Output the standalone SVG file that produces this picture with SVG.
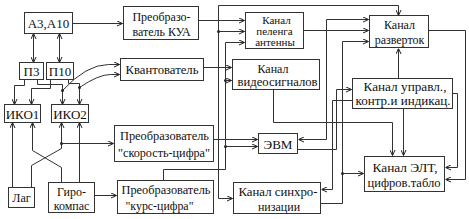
<svg xmlns="http://www.w3.org/2000/svg" width="469" height="219" viewBox="0 0 469 219">
<style>
.b{fill:#fff;stroke:#333;stroke-width:1}
.c{fill:none;stroke:#333;stroke-width:1}
.ar{marker-end:url(#a)}
.ab{marker-start:url(#a);marker-end:url(#a)}
text{font-family:"Liberation Serif","DejaVu Serif",serif;font-size:12px;fill:#111;text-anchor:middle}
.s{font-size:11px}
.d{fill:#222}
</style>
<defs>
<marker id="a" viewBox="0 0 6 6" refX="6" refY="3" markerWidth="6" markerHeight="6" markerUnits="userSpaceOnUse" orient="auto-start-reverse">
<path d="M0.5,0.5 L6,3 L0.5,5.5" fill="none" stroke="#222" stroke-width="1"/>
</marker>
</defs>
<rect width="469" height="219" fill="#fff"/>
<g transform="translate(0.5,0.5)">
<g id="connectors">
<path class="c ar" d="M72,23 H122"/>
<path class="c ab" d="M33,33 V62"/>
<path class="c ab" d="M59,33 V62"/>
<path class="c ar" d="M24,79 V85 H14 V104"/>
<path class="c ar" d="M37,79 V84 H62 V104"/>
<path class="c ar" d="M50,79 V88 H31 V104"/>
<path class="c ar" d="M68,79 V83 H79 V104"/>
<path class="c ar" d="M62,90 Q86,64 108,64 H119"/>
<path class="c ar" d="M79,87 Q98,74 110,74 H119"/>
<circle class="d" cx="62" cy="90" r="1.5"/>
<circle class="d" cx="79" cy="87" r="1.5"/>
<path class="c ar" d="M12,187 V122"/>
<path class="c ar" d="M31,187 V165 L61,148 V122"/>
<circle class="d" cx="61" cy="143" r="1.5"/>
<path class="c ar" d="M61,143 H113"/>
<path class="c ar" d="M61,182 V167 L32,150 V122"/>
<path class="c ar" d="M79,182 V122"/>
<path class="c ar" d="M94,195 H116"/>
<path class="c ar" d="M198,20 H244"/>
<path class="c ab" d="M398,15 V5 H218 V198 H232"/>
<circle class="d" cx="218" cy="31" r="1.5"/>
<path class="c ar" d="M218,31 H244"/>
<path class="c ar" d="M163,180 V169 H225 V42 H244"/>
<circle class="d" cx="225" cy="80" r="1.5"/>
<path class="c ar" d="M225,80 H231"/>
<circle class="d" cx="225" cy="146" r="1.5"/>
<path class="c ar" d="M225,146 H257"/>
<path class="c ar" d="M213,139 H257"/>
<path class="c ar" d="M203,67 H231"/>
<path class="c ar" d="M273,89 V122 H392 V155"/>
<path class="c ar" d="M303,30 H368"/>
<path class="c ab" d="M368,19 H326 V139 H298"/>
<path class="c ar" d="M320,203 H342 V41 H368"/>
<circle class="d" cx="342" cy="173" r="1.5"/>
<path class="c ar" d="M342,173 H363"/>
<path class="c ar" d="M297,149 H336 V89 H351"/>
<path class="c ar" d="M352,100 H332 V189 H321"/>
<path class="c ar" d="M398,78 V48"/>
<path class="c ar" d="M403,108 V155"/>
<path class="c ar" d="M452,93 H457 V167 H445"/>
<path class="c ar" d="M428,30 H465 V179 H445"/>
</g>
<g id="a3a10"><rect class="b" x="24" y="12" width="48" height="21"/><text x="48" y="27" style="font-size:13px">А3,А10</text></g>
<g id="kua"><rect class="b" x="123" y="6" width="75" height="33"/><text x="161" y="20">Преобразо-</text><text x="161" y="35">ватель КУА</text></g>
<g id="p3"><rect class="b" x="19" y="62" width="24" height="17"/><text x="31" y="75" style="font-size:13px">П3</text></g>
<g id="p10"><rect class="b" x="46" y="62" width="27" height="17"/><text x="59.5" y="75" style="font-size:13px">П10</text></g>
<g id="kvant"><rect class="b" x="120" y="58" width="83" height="22"/><text x="161.5" y="73" textLength="73" lengthAdjust="spacingAndGlyphs">Квантователь</text></g>
<g id="iko1"><rect class="b" x="4" y="104" width="36" height="18"/><text x="22" y="118" style="font-size:13px">ИКО1</text></g>
<g id="iko2"><rect class="b" x="51" y="104" width="37" height="18"/><text x="69.5" y="118" style="font-size:13px">ИКО2</text></g>
<g id="speed"><rect class="b" x="114" y="125" width="99" height="36"/><text x="164" y="139" textLength="89" lengthAdjust="spacingAndGlyphs">Преобразователь</text><text x="163.5" y="156" textLength="92" lengthAdjust="spacingAndGlyphs">"скорость-цифра"</text></g>
<g id="lag"><rect class="b" x="8" y="187" width="26" height="20"/><text x="21" y="201">Лаг</text></g>
<g id="gyro"><rect class="b" x="48" y="182" width="46" height="30"/><text x="71" y="195">Гиро-</text><text x="71" y="209">компас</text></g>
<g id="course"><rect class="b" x="117" y="180" width="96" height="33"/><text x="165.5" y="193" textLength="89" lengthAdjust="spacingAndGlyphs">Преобразователь</text><text x="159" y="209" textLength="68" lengthAdjust="spacingAndGlyphs">"курс-цифра"</text></g>
<g id="peleng"><rect class="b" x="245" y="12" width="58" height="36"/><text class="s" x="276" y="23">Канал</text><text class="s" x="274" y="34">пеленга</text><text class="s" x="274.5" y="45">антенны</text></g>
<g id="video"><rect class="b" x="232" y="59" width="87" height="30"/><text x="272.5" y="72">Канал</text><text x="277" y="85" textLength="80" lengthAdjust="spacingAndGlyphs">видеосигналов</text></g>
<g id="evm"><rect class="b" x="258" y="133" width="39" height="20"/><text x="277.5" y="148" textLength="29" lengthAdjust="spacingAndGlyphs">ЭВМ</text></g>
<g id="sync"><rect class="b" x="233" y="182" width="87" height="31"/><text x="277.5" y="195" textLength="79" lengthAdjust="spacingAndGlyphs">Канал синхро-</text><text x="278.5" y="210">низации</text></g>
<g id="razv"><rect class="b" x="369" y="15" width="59" height="32"/><text x="399" y="28">Канал</text><text x="399" y="43">разверток</text></g>
<g id="upr"><rect class="b" x="352" y="78" width="100" height="30"/><text x="404.5" y="90" textLength="83" lengthAdjust="spacingAndGlyphs">Канал управл.,</text><text x="402.5" y="104" textLength="95" lengthAdjust="spacingAndGlyphs">контр.и индикац.</text></g>
<g id="elt"><rect class="b" x="364" y="156" width="80" height="35"/><text x="404.5" y="171" textLength="65" lengthAdjust="spacingAndGlyphs">Канал ЭЛТ,</text><text x="403.5" y="186" textLength="73" lengthAdjust="spacingAndGlyphs">цифров.табло</text></g>
</g>
</svg>
